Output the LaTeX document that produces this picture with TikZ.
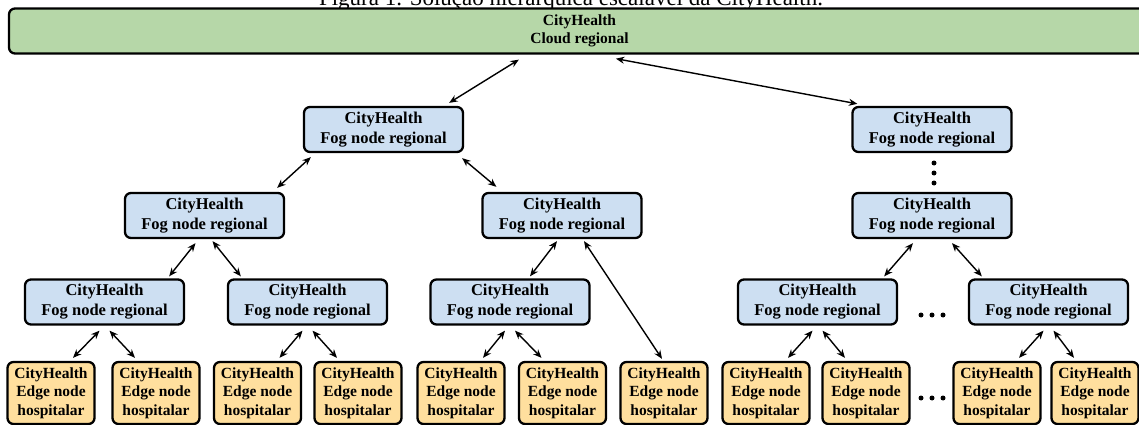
\documentclass[tikz,border=0pt]{standalone}
\usepackage{fontspec}
\setmainfont{Liberation Serif}
\usetikzlibrary{arrows.meta,calc}
\definecolor{cloudgreen}{RGB}{182,215,168}
\definecolor{fogblue}{RGB}{205,223,242}
\definecolor{edgeyellow}{RGB}{255,223,158}
\tikzset{
  box/.style={draw=black, line width=2.3pt, rounded corners=6pt, inner sep=0pt, align=center},
  cloudbox/.style={box, fill=cloudgreen, minimum width=1141pt, minimum height=45pt, font=\bfseries\fontsize{15.5}{18.5}\selectfont},
  fogbox/.style={box, fill=fogblue, minimum width=159pt, minimum height=45pt, font=\bfseries\fontsize{16.5}{20}\selectfont},
  edgebox/.style={box, fill=edgeyellow, minimum width=87pt, minimum height=62pt, font=\bfseries\fontsize{15.5}{18.5}\selectfont},
  link/.style={{Stealth[length=8.5pt,width=7pt]}-{Stealth[length=8.5pt,width=7pt]}, line width=1.4pt},
  dot/.style={circle, fill=black, inner sep=0pt, minimum size=5pt},
}
\begin{document}
\begin{tikzpicture}[x=1pt,y=-1pt]
\useasboundingbox (0,0) rectangle (1139,425);
% caption (cut off at top, as in the reference)
\node[anchor=base, inner sep=0pt, font=\fontsize{23}{26}\selectfont] (cap) at (571,6) {Figura 1. Solução hierárquica escalável da CityHealth.};
% cloud
\node[cloudbox] (cloud) at (579.5,31) {CityHealth\\Cloud regional};
% fog nodes
\node[fogbox] (f1) at (383.5,129.5) {CityHealth\\Fog node regional};
\node[fogbox] (fr1) at (932,129.5) {CityHealth\\Fog node regional};
\node[fogbox] (f2l) at (204.5,215.5) {CityHealth\\Fog node regional};
\node[fogbox] (f2m) at (562,215.5) {CityHealth\\Fog node regional};
\node[fogbox] (f2r) at (932,215.5) {CityHealth\\Fog node regional};
\node[fogbox] (f3a) at (104.5,302) {CityHealth\\Fog node regional};
\node[fogbox] (f3b) at (307.5,302) {CityHealth\\Fog node regional};
\node[fogbox] (f3c) at (510,302) {CityHealth\\Fog node regional};
\node[fogbox] (f3d) at (817.5,302) {CityHealth\\Fog node regional};
\node[fogbox] (f3e) at (1048.5,302) {CityHealth\\Fog node regional};
% edge nodes
\foreach \n/\x in {1/51,2/156,3/257.5,4/358,5/461,6/562.5,7/664,8/766,9/866,10/997,11/1095}
  \node[edgebox] (e\n) at (\x,393) {CityHealth\\Edge node\\hospitalar};
% dots
\node[dot] (vd1) at (934,163) {};
\node[dot] (vd2) at (934,173) {};
\node[dot] (vd3) at (934,183) {};
\node[dot] (hd1) at (921,315) {};
\node[dot] (hd2) at (932,315) {};
\node[dot] (hd3) at (943,315) {};
\node[dot] (ed1) at (921,398) {};
\node[dot] (ed2) at (932,398) {};
\node[dot] (ed3) at (943,398) {};
% links
\draw[link] ($(cloud.south west)+(511,5)$) -- ($(f1.north east)+(-15,-3)$);
\draw[link] ($(cloud.south west)+(608,4)$) -- ($(fr1.north west)+(6,-2)$);
\draw[link] ($(f1.south west)+(8,4)$) -- ($(f2l.north east)+(-8,-4)$);
\draw[link] ($(f1.south east)+(-2,5)$) -- ($(f2m.north west)+(15,-5)$);
\draw[link] ($(f2l.south)+(-9,4)$) -- ($(f3a.north east)+(-16,-2)$);
\draw[link] ($(f2l.south)+(8,2)$) -- ($(f3b.north west)+(14,-2)$);
\draw[link] ($(f2m.south)+(-5,2)$) -- ($(f3c.north)+(20,-2)$);
\draw[link] ($(f2m.south)+(22,2)$) -- ($(e7.north)+(-2,-2)$);
\draw[link] ($(f2r.south)+(-19,4)$) -- ($(f3d.north east)+(-14,-2)$);
\draw[link] ($(f2r.south)+(20,4)$) -- ($(f3e.north west)+(14,-2)$);
\foreach \p/\l/\r in {f3a/e1/e2, f3b/e3/e4, f3c/e5/e6, f3d/e8/e9, f3e/e10/e11} {
  \draw[link] ($(\p.south)+(-5,5)$) -- ($(\l.north)+(22,-3)$);
  \draw[link] ($(\p.south)+(5,5)$) -- ($(\r.north)+(-21,-3)$);
}
\end{tikzpicture}
\end{document}
